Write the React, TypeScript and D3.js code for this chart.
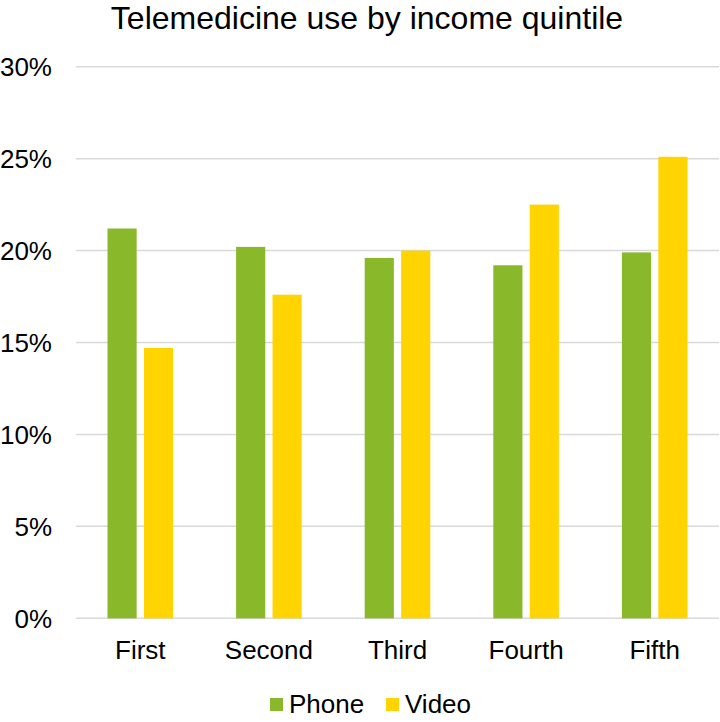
import { useEffect, useRef } from 'react';
import * as d3 from 'd3';

const W = 720, H = 722;
const M = { top: 66.7, right: 1, bottom: 103.7, left: 76 };
const FONT = "'Liberation Sans', Arial, sans-serif";

const QUINTILES = ['First', 'Second', 'Third', 'Fourth', 'Fifth'];
const SERIES = ['Phone', 'Video'];
const PHONE = [21.2, 20.2, 19.6, 19.2, 19.9];
const VIDEO = [14.7, 17.6, 20.0, 22.5, 25.1];
const Y_TICKS = [0, 5, 10, 15, 20, 25, 30];
const COLORS: Record<string, string> = { Phone: '#89B92A', Video: '#FFD400' };

export default function App() {
  const ref = useRef<SVGSVGElement>(null);
  useEffect(() => {
    const svg = d3.select(ref.current); svg.selectAll('*').remove();
    svg.attr('width', W).attr('height', H).attr('font-family', FONT);
    const rows = QUINTILES.map((q, i) => ({ q, Phone: PHONE[i], Video: VIDEO[i] }));

    const x0 = d3.scaleBand().domain(QUINTILES).range([M.left, W - M.right]).paddingInner(0.49).paddingOuter(0.245);
    const x1 = d3.scaleBand().domain(SERIES).range([0, x0.bandwidth()]).paddingInner(0.2);
    const y = d3.scaleLinear().domain([0, 30]).range([H - M.bottom, M.top]);

    // gridlines
    svg.append('g').selectAll('line').data(Y_TICKS).join('line')
      .attr('x1', M.left).attr('x2', W - M.right).attr('y1', d => y(d)).attr('y2', d => y(d))
      .attr('stroke', '#D9D9D9').attr('stroke-width', 1.5);
    svg.append('g').selectAll('text').data(Y_TICKS).join('text')
      .attr('x', 52).attr('y', d => y(d) + 9.5).attr('text-anchor', 'end')
      .attr('font-size', 26).attr('fill', '#000').text(d => `${d}%`);

    // bars
    const g = svg.append('g').selectAll('g').data(rows).join('g')
      .attr('transform', d => `translate(${x0(d.q)},0)`);
    g.selectAll('rect').data(d => SERIES.map(s => ({ s, v: (d as any)[s] as number }))).join('rect')
      .attr('x', d => x1(d.s)!).attr('width', x1.bandwidth())
      .attr('y', d => y(d.v)).attr('height', d => y(0) - y(d.v))
      .attr('fill', d => COLORS[d.s]);

    // category labels
    svg.append('g').selectAll('text').data(QUINTILES).join('text')
      .attr('x', d => x0(d)! + x0.bandwidth() / 2).attr('y', 658.5).attr('text-anchor', 'middle')
      .attr('font-size', 26).attr('fill', '#000').text(d => d);

    // title
    svg.append('text').attr('x', 367).attr('y', 28.5).attr('text-anchor', 'middle')
      .attr('font-size', 32).attr('fill', '#000').text('Telemedicine use by income quintile');

    // legend
    const lg = svg.append('g').selectAll('g').data(SERIES).join('g')
      .attr('transform', (d, i) => `translate(${i === 0 ? 270 : 386},0)`);
    lg.append('rect').attr('x', 0).attr('y', 698).attr('width', 13).attr('height', 13).attr('fill', d => COLORS[d]);
    lg.append('text').attr('x', 19).attr('y', 712.5).attr('font-size', 26).attr('fill', '#000').text(d => d);
  }, []);
  return <svg ref={ref} style={{ position: 'absolute', left: 0, top: 0, background: '#fff' }} />;
}
